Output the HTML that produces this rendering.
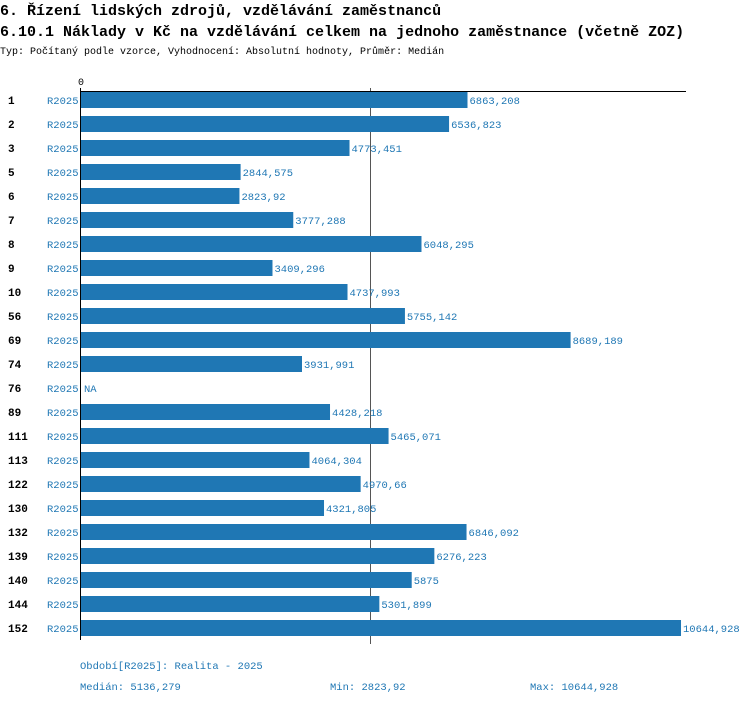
<!DOCTYPE html>
<html><head><meta charset="utf-8"><style>
body{margin:0;background:#fff;width:750px;height:704px;overflow:hidden;font-family:"Liberation Mono",monospace;}
svg text{font-family:"Liberation Mono",monospace;}
</style></head><body>
<svg width="750" height="704">
<text x="0" y="15" font-size="15" font-weight="bold">6. Řízení lidských zdrojů, vzdělávání zaměstnanců</text>
<text x="0" y="36" font-size="15" font-weight="bold">6.10.1 Náklady v Kč na vzdělávání celkem na jednoho zaměstnance (včetně ZOZ)</text>
<text x="0" y="54" font-size="10">Typ: Počítaný podle vzorce, Vyhodnocení: Absolutní hodnoty, Průměr: Medián</text>
<text x="78" y="85" font-size="10">0</text>
<line id="med" y1="88" y2="644" stroke="#555"/>
<g id="bars"></g>
<line x1="80.5" y1="88" x2="80.5" y2="640" stroke="#000"/>
<line x1="80" y1="91.5" x2="686" y2="91.5" stroke="#000"/>
<text x="80" y="669" font-size="10.5" fill="#1f77b4">Období[R2025]: Realita - 2025</text>
<text x="80" y="690" font-size="10.5" fill="#1f77b4">Medián: 5136,279</text>
<text x="330" y="690" font-size="10.5" fill="#1f77b4">Min: 2823,92</text>
<text x="530" y="690" font-size="10.5" fill="#1f77b4">Max: 10644,928</text>
</svg>
<script>
const categories=["1","2","3","5","6","7","8","9","10","56","69","74","76","89","111","113","122","130","132","139","140","144","152"];
const values=[6863.208,6536.823,4773.451,2844.575,2823.92,3777.288,6048.295,3409.296,4737.993,5755.142,8689.189,3931.991,null,4428.218,5465.071,4064.304,4970.66,4321.805,6846.092,6276.223,5875,5301.899,10644.928];
const median=5136.279;
const NS="http://www.w3.org/2000/svg";
const x=v=>80+v*0.05646;
const rowY=i=>100+i*24;
const g=document.getElementById('bars');
function mk(t,a){const e=document.createElementNS(NS,t);for(const k in a)e.setAttribute(k,a[k]);return e;}
const fmt=v=>String(v).replace('.',',');
categories.forEach((c,i)=>{
 const y=rowY(i);
 const l=mk('text',{x:8,y:y+4,'font-size':11,'font-weight':'bold'});l.textContent=c;
 
 
 g.appendChild(l);
 const p=mk('text',{x:47,y:y+4,'font-size':10.5,fill:'#1f77b4'});p.textContent='R2025';
 
 
 g.appendChild(p);
 const v=values[i];
 if(v==null){const n=mk('text',{x:84,y:y+4,'font-size':10.5,fill:'#1f77b4'});n.textContent='NA';
  
  
  g.appendChild(n);return;}
 const r=mk('rect',{x:80,y:y-8,width:x(v)-80,height:16,fill:'#1f77b4'});
 
 
 g.appendChild(r);
 const t=mk('text',{x:x(v)+2,y:y+4,'font-size':10.5,fill:'#1f77b4'});t.textContent=fmt(v);
 
 
 g.appendChild(t);
});
const m=document.getElementById('med');m.setAttribute('x1',Math.round(x(median))+0.5);m.setAttribute('x2',Math.round(x(median))+0.5);
</script>
</body></html>
